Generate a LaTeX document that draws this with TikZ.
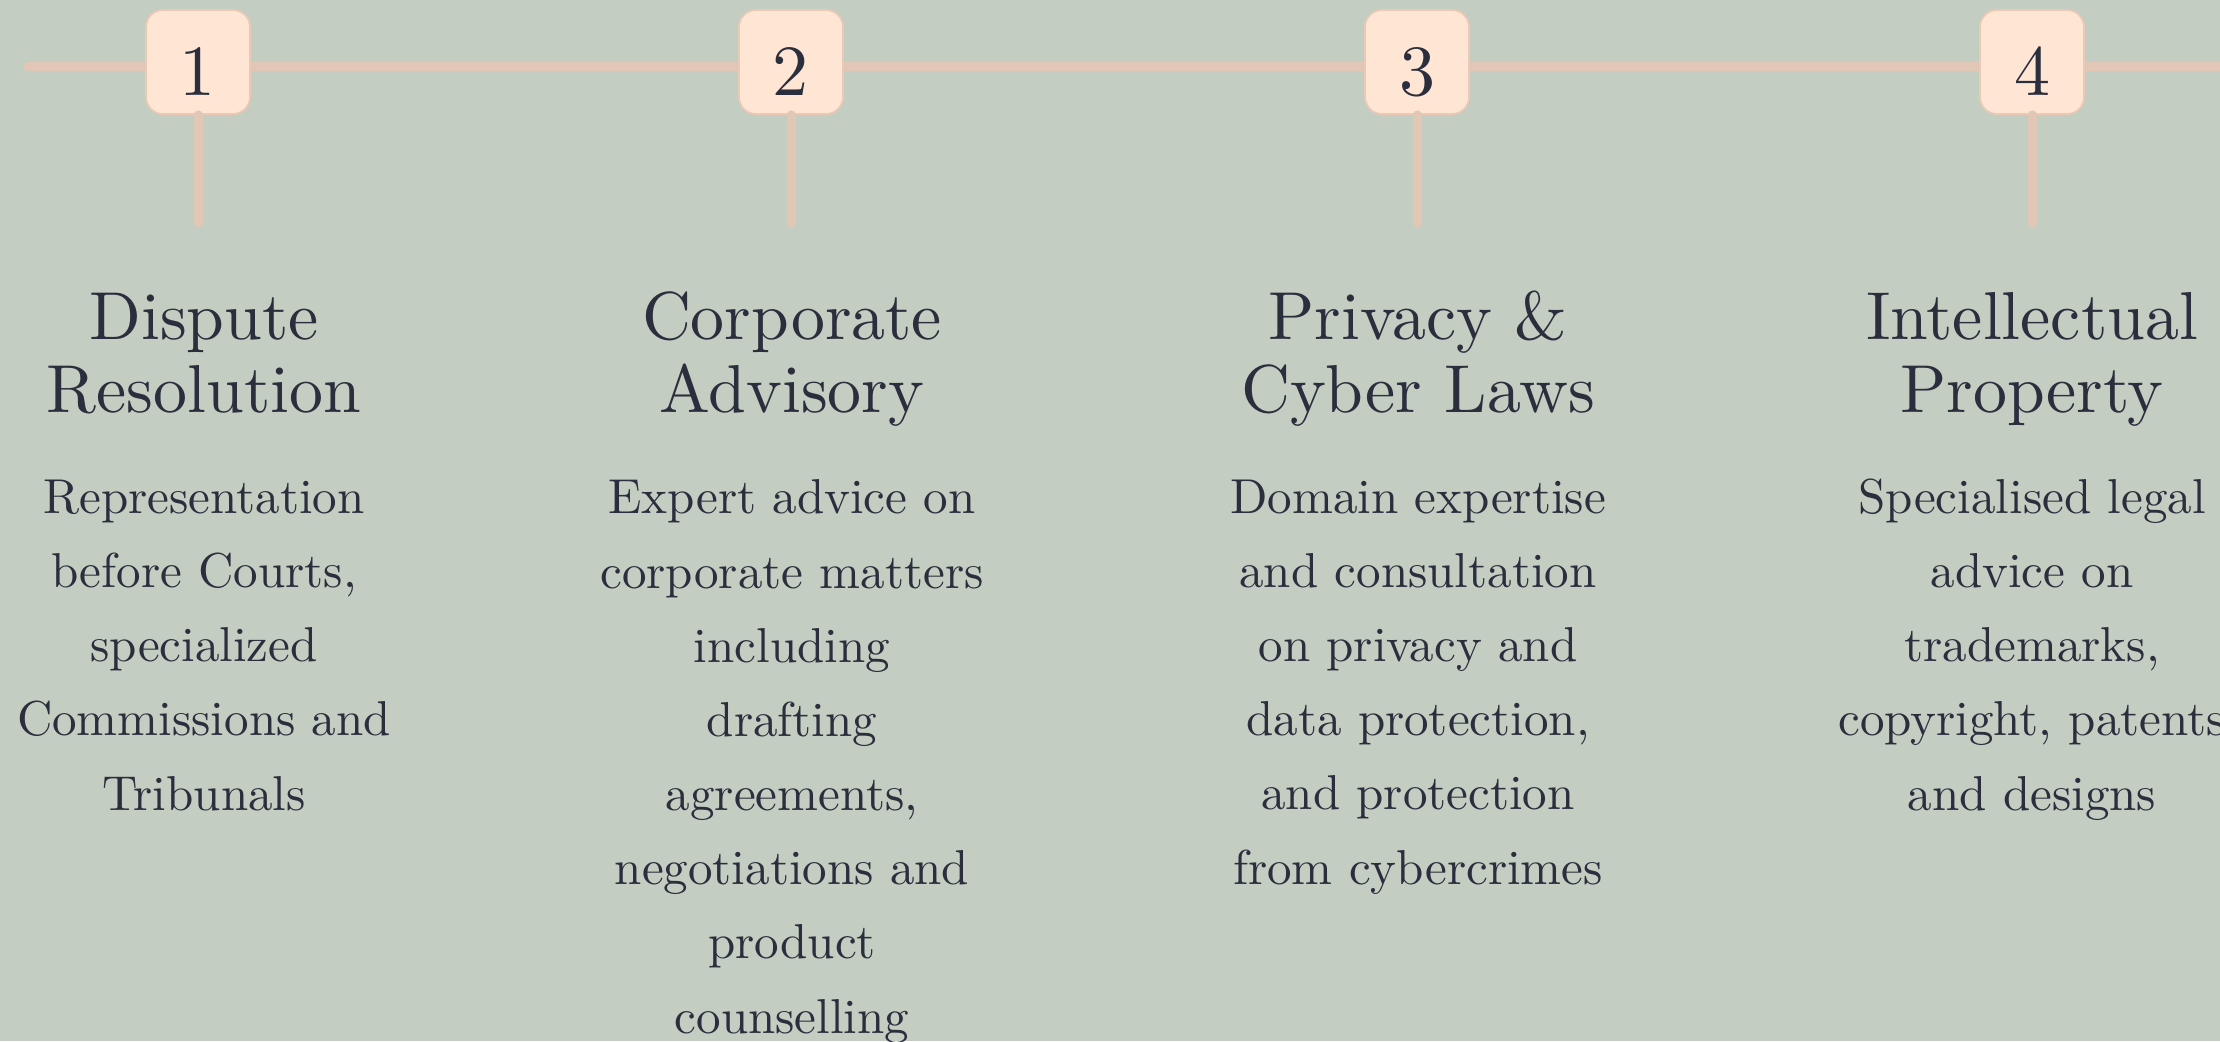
\documentclass[tikz,border=0pt]{standalone}
\usepackage[usenames,dvipsnames,svgnames,table]{xcolor}
\usetikzlibrary{calc,shapes,positioning}
\definecolor{sage}{HTML}{C3CDC1}
\definecolor{peach}{HTML}{FFE5D4}
\definecolor{railpeach}{HTML}{E2C6B6}
\definecolor{boxedge}{HTML}{EBC9B4}
\definecolor{ink}{HTML}{2A2E3D}
\font\numfnt="[lmroman10-regular]:+tlig;" at 20.5pt
\font\headfnt="[lmroman10-regular]:+tlig;" at 19.3pt
\font\blurbfnt="[lmroman10-regular]:+tlig;" at 13.95pt

\begin{document}
\begin{tikzpicture}[numbox/.style={draw=boxedge,line width=0.5pt,fill=peach,rounded corners=0.17cm,
minimum size=1.04cm,inner sep=0pt,text height=0.665cm,text depth=0pt,font=\numfnt},
railline/.style={draw=railpeach,line width=0.09cm,line cap=round},
heading/.style={align=center,anchor=base,font={\headfnt\baselineskip=20.5pt}},
blurb/.style={align=center,anchor=base,font={\blurbfnt\baselineskip=21.1pt}},
text=ink]
\useasboundingbox (0,0) rectangle (22.2,-10.41);
\fill[sage] (0,0) rectangle (22.2,-10.41);
\coordinate (railstart) at (0.28,-0.667);
\coordinate (railend) at (22.5,-0.667);
\draw[railline] (railstart) -- (railend);
\node (n1) at (1.98,-0.62)[numbox]{1};
\node (n2) at (7.91,-0.62)[numbox]{2};
\node (n3) at (14.17,-0.62)[numbox]{3};
\node (n4) at (20.32,-0.62)[numbox]{4};
\coordinate (stub1) at (1.98,-2.23);
\coordinate (stub2) at (7.91,-2.23);
\coordinate (stub3) at (14.17,-2.23);
\coordinate (stub4) at (20.32,-2.23);
\draw[railline] (n1) -- (stub1);
\draw[railline] (n2) -- (stub2);
\draw[railline] (n3) -- (stub3);
\draw[railline] (n4) -- (stub4);
% anchor=base sits under the last line
\node (t1) at (2.04,-4.12)[heading]{Dispute\\Resolution};
\node (t2) at (7.92,-4.12)[heading]{Corporate\\Advisory};
\node (t3) at (14.18,-4.12)[heading]{Privacy \&\\Cyber Laws};
\node (t4) at (20.32,-4.12)[heading]{Intellectual\\Property};
\node (b1) at (2.04,-8.10)[blurb]{Representation\\before Courts,\\specialized\\Commissions and\\Tribunals};
\node (b2) at (7.92,-10.33)[blurb]{Expert advice on\\corporate matters\\including\\drafting\\agreements,\\negotiations and\\product\\counselling};
\node (b3) at (14.18,-8.84)[blurb]{Domain expertise\\and consultation\\on privacy and\\data protection,\\and protection\\from cybercrimes};
\node (b4) at (20.32,-8.10)[blurb]{Specialised legal\\advice on\\trademarks,\\copyright, patents\\and designs};
\end{tikzpicture}
\end{document}
